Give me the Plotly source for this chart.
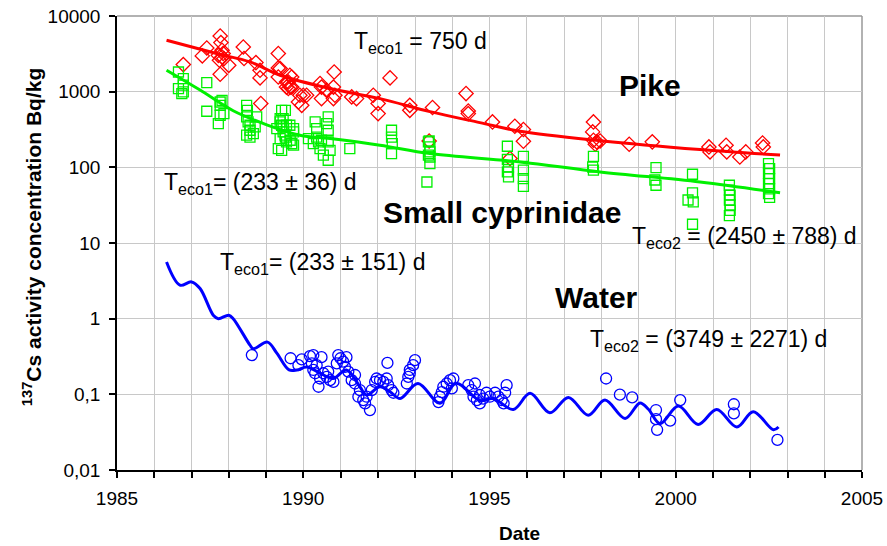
import plotly.graph_objects as go

# ---------------- data ----------------
pike_x = [1986.78, 1987.29, 1987.41, 1987.77, 1987.79, 1987.82, 1987.72, 1987.82, 1987.87, 1987.75, 1987.85,
          1988.0, 1987.77, 1988.39, 1988.41, 1988.73, 1988.84, 1988.84, 1988.86, 1989.33, 1989.33, 1989.33,
          1989.6, 1989.65, 1989.55, 1989.69, 1989.91, 1989.87, 1989.38, 1989.64, 1989.55, 1989.6, 1989.69,
          1990.0, 1989.96, 1990.09, 1990.45, 1990.49, 1990.63, 1990.83, 1990.81, 1990.49, 1990.81, 1990.85,
          1991.3, 1991.43, 1991.88, 1992.01, 1992.01, 1992.33, 1992.86, 1992.86, 1993.47, 1994.37, 1994.43,
          1994.43, 1993.38, 1995.08, 1995.68, 1995.91, 1995.91, 1995.55, 1997.79, 1997.77, 1997.79, 1997.88,
          1997.84, 1997.97, 1998.75, 1999.37, 2000.89, 2000.92, 2001.35, 2001.37, 2001.72, 2001.88, 2002.33,
          2002.35]
pike_y = [2280, 2970, 3780, 5450, 4450, 3530, 3020, 2870, 2730, 2600, 3200,
          2230, 1700, 3890, 2740, 2420, 1920, 1520, 697, 3190, 2060, 1560,
          1340, 1150, 1150, 1560, 896, 730, 2020, 1650, 1340, 1100, 1150,
          896, 660, 896, 1280, 1150, 1040, 1820, 1150, 810, 810, 896,
          852, 810, 896, 697, 513, 1520, 660, 567, 617, 944, 556,
          513, 223, 398, 349, 316, 221, 131, 398, 294, 228, 217,
          202, 223, 202, 217, 186, 160, 196, 160, 137, 160, 210,
          186]

cyp_x = [1986.65, 1986.78, 1986.78, 1986.65, 1986.78, 1986.74, 1987.41, 1987.41, 1987.77, 1987.77, 1987.82,
         1987.77, 1987.72, 1987.87, 1988.48, 1988.5, 1988.48, 1988.52, 1988.57, 1988.57, 1988.66, 1988.48,
         1988.75, 1988.71, 1988.57, 1989.38, 1989.52, 1989.42, 1989.29, 1989.46, 1989.38, 1989.33, 1989.55,
         1989.65, 1989.69, 1989.74, 1989.52, 1989.38, 1989.42, 1989.46, 1989.46, 1989.51, 1989.55, 1989.42,
         1989.64, 1989.74, 1989.69, 1989.74, 1990.14, 1990.32, 1990.36, 1990.36, 1990.41, 1990.45, 1990.54,
         1990.67, 1990.63, 1990.67, 1990.67, 1990.72, 1990.67, 1990.27, 1990.49, 1991.25, 1992.37, 1992.37,
         1992.39, 1992.37, 1993.36, 1993.36, 1993.32, 1993.38, 1993.4, 1993.4, 1993.4, 1993.4, 1995.48,
         1995.48, 1995.51, 1995.48, 1995.51, 1995.91, 1995.91, 1995.91, 1995.91, 1997.79, 1997.77, 1997.79,
         1999.47, 1999.44, 1999.47, 2000.45, 2000.45, 2000.33, 2000.47, 2000.45, 2001.44, 2001.44, 2001.46,
         2001.44, 2001.46, 2001.46, 2001.44, 2002.49, 2002.52, 2002.49, 2002.52, 2002.49, 2002.52, 2002.49,
         2002.52]
cyp_y = [1820, 1490, 1220, 1100, 992, 944, 1320, 551, 730, 660, 769,
         488, 379, 513, 660, 567, 463, 398, 360, 309, 279, 266,
         463, 342, 251, 441, 567, 360, 324, 294, 240, 177, 360,
         228, 206, 324, 251, 398, 567, 441, 342, 266, 217, 168,
         360, 294, 206, 196, 240, 398, 324, 251, 217, 177, 145,
         463, 379, 309, 217, 168, 124, 206, 228, 177, 309, 251,
         206, 152, 217, 145, 64, 223, 186, 160, 137, 112, 190,
         127, 101, 87, 75, 140, 92, 71, 56, 140, 101, 92,
         99, 68, 58, 81, 46, 37, 35, 17.7, 58, 50, 43,
         37, 32, 27, 23, 112, 96, 83, 71, 61, 52, 45,
         40]

water_x = [1988.62, 1989.66, 1989.96, 1989.87, 1990.18, 1990.27, 1990.49, 1990.23, 1990.27, 1990.32, 1990.36,
           1990.45, 1990.41, 1990.54, 1990.63, 1990.72, 1990.81, 1990.67, 1990.94, 1991.0, 1991.07, 1991.16,
           1990.9, 1991.12, 1991.21, 1991.39, 1991.3, 1991.39, 1991.52, 1991.48, 1991.61, 1991.66, 1991.79,
           1991.7, 1991.84, 1991.93, 1991.97, 1992.06, 1992.15, 1992.24, 1992.28, 1992.37, 1992.42, 1992.26,
           1992.78, 1992.82, 1992.86, 1992.95, 1993.0, 1992.86, 1993.63, 1993.67, 1993.72, 1993.76, 1993.85,
           1993.94, 1994.03, 1993.99, 1994.43, 1994.52, 1994.61, 1994.57, 1994.66, 1994.74, 1994.74, 1994.83,
           1994.92, 1995.01, 1995.15, 1995.24, 1995.33, 1995.38, 1995.42, 1995.46, 1998.13, 1998.5, 1998.83,
           1999.47, 1999.47, 1999.5, 1999.85, 2000.12, 2001.56, 2001.56, 2002.73]
water_y = [0.33, 0.30, 0.29, 0.243, 0.32, 0.33, 0.31, 0.256, 0.21, 0.19, 0.243,
           0.162, 0.126, 0.19, 0.17, 0.154, 0.146, 0.20, 0.33, 0.30, 0.27, 0.31,
           0.256, 0.23, 0.20, 0.18, 0.154, 0.139, 0.114, 0.093, 0.084, 0.076, 0.062,
           0.093, 0.114, 0.146, 0.162, 0.154, 0.146, 0.162, 0.132, 0.114, 0.105, 0.26,
           0.139, 0.17, 0.21, 0.243, 0.283, 0.19, 0.079, 0.093, 0.107, 0.126, 0.139,
           0.154, 0.162, 0.12, 0.132, 0.114, 0.139, 0.093, 0.084, 0.076, 0.098, 0.088,
           0.105, 0.093, 0.105, 0.093, 0.084, 0.076, 0.105, 0.132, 0.162, 0.099, 0.091,
           0.062, 0.047, 0.034, 0.045, 0.084, 0.074, 0.056, 0.025]

pike_fit_x = [1986.33, 1987.67, 1988.57, 1989.38, 1990.72, 1992.06, 1993.4, 1994.74, 1995.82, 1997.97, 2000.65, 2002.8]
pike_fit_y = [4780, 3190, 2470, 1650, 1100, 810, 545, 390, 300, 225, 172, 145]

cyp_fit_x = [1986.33, 1987.23, 1988.12, 1989.02, 1989.91, 1990.72, 1992.06, 1993.4, 1995.82, 1997.97, 2000.65, 2002.8]
cyp_fit_y = [1920, 1050, 560, 365, 266, 240, 196, 152, 118, 87, 64, 46]

water_fit_x = [1986.33, 1986.69, 1987.0, 1987.23, 1987.59, 1987.72, 1988.0, 1988.12, 1988.57, 1988.66, 1989.04,
               1989.29, 1989.62, 1989.83, 1990.1, 1990.45, 1990.8, 1991.16, 1991.52, 1991.7, 1992.06, 1992.33,
               1992.6, 1993.08, 1993.67, 1994.1, 1994.74, 1995.1, 1995.64, 1996.09, 1996.62, 1997.12, 1997.65,
               1998.1, 1998.64, 1999.04, 1999.26, 1999.58, 2000.07, 2000.6, 2001.1, 2001.64, 2002.08, 2002.62,
               2002.76]
water_fit_y = [5.6, 2.77, 3.06, 2.5, 1.1, 1.0, 1.11, 1.0, 0.447, 0.40, 0.49,
               0.35, 0.21, 0.21, 0.23, 0.19, 0.162, 0.21, 0.126, 0.098, 0.126, 0.108,
               0.088, 0.139, 0.076, 0.14, 0.083, 0.088, 0.063, 0.103, 0.057, 0.091, 0.053,
               0.084, 0.048, 0.077, 0.064, 0.041, 0.07, 0.040, 0.063, 0.037, 0.059, 0.034,
               0.037]

y_tickvals = [0.01, 0.1, 1, 10, 100, 1000, 10000]
y_ticktext = ["0,01", "0,1", "1", "10", "100", "1000", "10000"]
x_tickvals = [1985, 1990, 1995, 2000, 2005]
x_ticktext = ["1985", "1990", "1995", "2000", "2005"]

RED = "#ff0000"
GREEN = "#00f000"
BLUE = "#0000ff"
FONT = "Liberation Sans, Arial, sans-serif"

fig = go.Figure()

fig.add_trace(go.Scatter(x=pike_x, y=pike_y, mode="markers",
                         marker=dict(symbol="diamond-open", size=11, color=RED, line=dict(width=1.3, color=RED))))
fig.add_trace(go.Scatter(x=cyp_x, y=cyp_y, mode="markers",
                         marker=dict(symbol="square-open", size=10, color=GREEN, line=dict(width=1.3, color=GREEN))))
fig.add_trace(go.Scatter(x=water_x, y=water_y, mode="markers",
                         marker=dict(symbol="circle-open", size=11, color=BLUE, line=dict(width=1.3, color=BLUE))))
fig.add_trace(go.Scatter(x=pike_fit_x, y=pike_fit_y, mode="lines", line=dict(color=RED, width=3, shape="spline")))
fig.add_trace(go.Scatter(x=cyp_fit_x, y=cyp_fit_y, mode="lines", line=dict(color=GREEN, width=3, shape="spline")))
fig.add_trace(go.Scatter(x=water_fit_x, y=water_fit_y, mode="lines", line=dict(color=BLUE, width=3, shape="spline")))

ann_font = dict(family=FONT, size=23, color="black")
bold_font = dict(family=FONT, size=30, color="black")
annotations = [
    dict(x=1991.31, y=3.653, text="T<sub>eco1</sub> = 750 d", font=ann_font),
    dict(x=1998.42, y=3.085, text="<b>Pike</b>", font=bold_font),
    dict(x=1986.21, y=1.79, text="T<sub>eco1</sub>= (233 ± 36) d", font=ann_font),
    dict(x=1992.09, y=1.407, text="<b>Small cyprinidae</b>", font=bold_font),
    dict(x=1998.77, y=1.077, text="T<sub>eco2</sub> = (2450 ± 788) d", font=ann_font),
    dict(x=1987.71, y=0.733, text="T<sub>eco1</sub>= (233 ± 151) d", font=ann_font),
    dict(x=1996.70, y=0.284, text="<b>Water</b>", font=bold_font),
    dict(x=1997.64, y=-0.285, text="T<sub>eco2</sub> = (3749 ± 2271) d", font=ann_font),
]
for a in annotations:
    a.update(xref="x", yref="y", xanchor="left", yanchor="middle", showarrow=False)

annotations.append(dict(x=-0.114, y=0.513, xref="paper", yref="paper", showarrow=False, textangle=-90,
                        xanchor="center", yanchor="middle",
                        text="<b><sup>137</sup>Cs activity concentration Bq/kg</b>",
                        font=dict(family=FONT, size=21, color="black")))
annotations.append(dict(x=0.54, y=-0.139, xref="paper", yref="paper", showarrow=False,
                        xanchor="center", yanchor="middle",
                        text="<b>Date</b>", font=dict(family=FONT, size=19, color="black")))

fig.update_layout(
    width=887, height=546,
    margin=dict(l=117, r=25, t=16, b=76, autoexpand=False),
    paper_bgcolor="white", plot_bgcolor="white",
    showlegend=False,
    font=dict(family=FONT, size=19, color="black"),
    annotations=annotations,
    shapes=[
        dict(type="line", xref="paper", yref="paper", x0=0, x1=1, y0=1, y1=1,
             line=dict(color="#999999", width=1.5), layer="below"),
        dict(type="line", xref="paper", yref="paper", x0=1, x1=1, y0=0, y1=1,
             line=dict(color="#999999", width=1.5), layer="below"),
    ],
)
axis_common = dict(automargin=False, ticklabeloverflow="allow",
                   showgrid=True, gridcolor="#c8c8c8", gridwidth=1,
                   showline=True, linecolor="black", linewidth=1.5,
                   ticks="outside", ticklen=6, tickcolor="black", tickwidth=1.5,
                   zeroline=False, tickfont=dict(family=FONT, size=19, color="black"))
fig.update_xaxes(range=[1985, 2005], tickmode="array", tickvals=x_tickvals, ticktext=x_ticktext,
                 ticklabelstandoff=4,
                 minor=dict(dtick=1, tick0=1985, showgrid=True, gridcolor="#c8c8c8", gridwidth=1,
                            ticks="outside", ticklen=6, tickcolor="black", tickwidth=1.5),
                 **axis_common)
fig.update_yaxes(type="log", range=[-2, 4], tickmode="array", tickvals=y_tickvals, ticktext=y_ticktext,
                 ticklabelstandoff=5, **axis_common)

# remove the default page margin so the figure fills the window exactly
fig.write_html("out.html", config={"displayModeBar": False},
               post_script="document.body.style.margin='0px';document.body.style.overflow='hidden';")
